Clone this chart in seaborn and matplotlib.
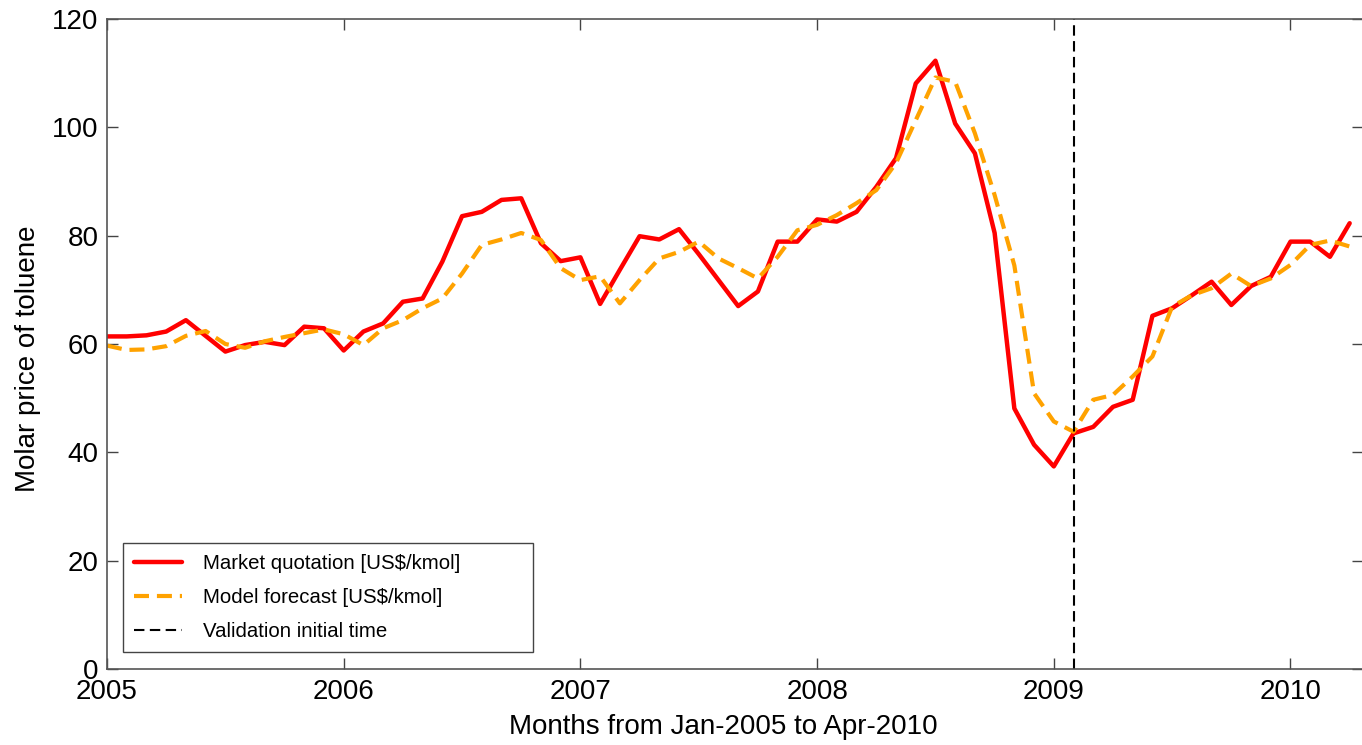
import numpy as np
import pandas as pd
import matplotlib
matplotlib.use("Agg")
import matplotlib.pyplot as plt
import seaborn as sns

# Monthly data, Jan-2005 .. Apr-2010
years = [2005, 2006, 2007, 2008, 2009, 2010]
market = [61.4, 61.4, 61.6, 62.3, 64.4, 61.5, 58.6, 59.8, 60.4, 59.8, 63.2, 62.9,
          58.8, 62.3, 63.8, 67.8, 68.4, 75.2, 83.6, 84.4, 86.6, 86.9, 78.6, 75.3,
          76.0, 67.4, 73.7, 79.9, 79.3, 81.2, 76.6, 71.8, 67.0, 69.7, 78.9, 78.9,
          83.0, 82.6, 84.4, 89.0, 94.3, 108.1, 112.3, 100.7, 95.2, 80.5, 48.1, 41.4,
          37.4, 43.5, 44.7, 48.4, 49.7, 65.2, 66.6, 69.0, 71.5, 67.2, 70.7, 72.4,
          78.9, 78.9, 76.1, 82.3]
forecast = [59.7, 58.9, 59.0, 59.6, 61.5, 62.4, 60.0, 59.3, 60.5, 61.3, 62.0, 62.7,
            61.8, 59.8, 62.9, 64.4, 66.6, 68.4, 73.0, 78.3, 79.3, 80.5, 79.2, 74.0,
            71.8, 72.5, 67.5, 71.8, 75.8, 77.0, 78.9, 75.8, 74.0, 72.1, 76.1, 81.0,
            82.0, 83.8, 86.0, 88.4, 93.4, 101.3, 109.2, 108.4, 98.9, 87.5, 74.5, 50.9,
            45.7, 43.8, 49.7, 50.6, 54.0, 57.7, 66.9, 69.0, 70.3, 73.0, 70.7, 72.1,
            74.6, 78.3, 79.1, 78.0]
months = [2005 + i / 12 for i in range(len(market))]
validation_start = 2009 + 1 / 12
yticks = [0, 20, 40, 60, 80, 100, 120]

labels = ["Market quotation [US\\$/kmol]", "Model forecast [US\\$/kmol]",
          "Validation initial time"]

df = pd.DataFrame({"t": months, "market": market, "forecast": forecast})

sns.set_style("white")
plt.rcParams["font.family"] = ["Liberation Sans", "DejaVu Sans"]
plt.rcParams["text.color"] = "black"
plt.rcParams["axes.labelcolor"] = "black"

W, H = 1362, 745
fig = plt.figure(figsize=(W / 100, H / 100), dpi=100)
ax = fig.add_axes([107 / W, (H - 669) / H, (1363 - 107) / W, (669 - 19) / H])

sns.lineplot(data=df, x="t", y="market", ax=ax, color="#FF0000", linewidth=3.2,
             label=labels[0])
sns.lineplot(data=df, x="t", y="forecast", ax=ax, color="#FFA200", linewidth=3,
             label=labels[1])
ax.lines[-1].set_dashes((3.6, 1.9))
ax.axvline(validation_start, color="black", linewidth=1.5, dashes=(5, 2.6),
           label=labels[2])

ax.set_xlim(2005, 2005 + (1363 - 107) / 236.7)
ax.set_ylim(0, 120)
ax.set_xticks(years)
ax.set_xticklabels([str(y) for y in years])
ax.set_yticks(yticks)

ax.tick_params(direction="in", length=8, width=1, colors="#444444",
               labelcolor="black", labelsize=20,
               top=True, right=True, bottom=True, left=True)
ax.tick_params(axis="x", pad=7.5)
ax.tick_params(axis="y", pad=6)
for s in ax.spines.values():
    s.set_visible(True)
    s.set_color("#555555")
    s.set_linewidth(1.2)

ax.set_xlabel("Months from Jan-2005 to Apr-2010", fontsize=20, color="black")
ax.set_ylabel("Molar price of toluene", fontsize=20, color="black")
ax.xaxis.set_label_coords((723.5 - 107) / 1256, (669 - 727) / 650)
ax.yaxis.set_label_coords((28 - 107) / 1256, (669 - 359) / 650)
ax.xaxis.label.set_va("center")
ax.yaxis.label.set_va("center")

leg = ax.legend(loc="lower left",
                bbox_to_anchor=(16 / 1256, 17 / 650, 410 / 1256, 0.1),
                mode="expand", borderaxespad=0, fontsize=14.7,
                frameon=True, fancybox=False, framealpha=1,
                edgecolor="#444444", handlelength=2.35, handletextpad=1.0,
                labelspacing=0.73, borderpad=0.55)
leg.get_frame().set_linewidth(1.0)
for t in leg.get_texts():
    t.set_color("black")

fig.savefig("out.png", dpi=100)
